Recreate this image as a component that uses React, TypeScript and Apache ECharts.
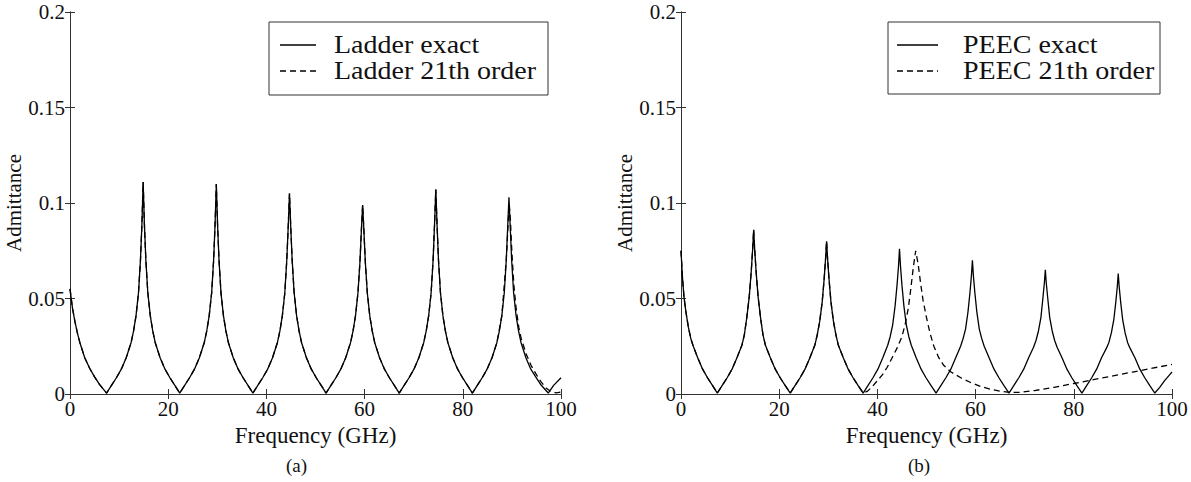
import React, { useEffect, useRef } from 'react';
import * as echarts from 'echarts';

// Frequency axis ticks (GHz) and admittance ticks
const freqTicks = [0, 20, 40, 60, 80, 100];
const admTicks = [0, 0.05, 0.1, 0.15, 0.2];

// Legend labels
const ladderNames = ['Ladder exact', 'Ladder 21th order'];
const peecNames = ['PEEC exact', 'PEEC 21th order'];

// (a) Ladder exact: [frequency GHz, admittance]
const ladderExact: [number, number][] = [
  [0, 0.055], [0.5, 0.045], [1, 0.038], [1.5, 0.032], [2, 0.027], [3, 0.019], [4, 0.0135], [5, 0.009], [6, 0.005], [7.45, 0.0005],
  [8.45, 0.0045], [9.45, 0.0085], [10.45, 0.013], [11.45, 0.019], [12.45, 0.027], [12.95, 0.033], [13.45, 0.041], [13.95, 0.053], [14.35, 0.07], [14.65, 0.089],
  [14.9, 0.111],
  [15.15, 0.089], [15.45, 0.07], [15.85, 0.053], [16.35, 0.041], [16.85, 0.033], [17.35, 0.027], [18.35, 0.019], [19.35, 0.013], [20.35, 0.0085], [21.35, 0.0045], [22.35, 0.0005],
  [23.35, 0.0045], [24.35, 0.0085], [25.35, 0.013], [26.35, 0.019], [27.35, 0.027], [27.85, 0.033], [28.35, 0.041], [28.85, 0.053], [29.25, 0.07], [29.55, 0.089],
  [29.8, 0.11],
  [30.05, 0.089], [30.35, 0.07], [30.75, 0.053], [31.25, 0.041], [31.75, 0.033], [32.25, 0.027], [33.25, 0.019], [34.25, 0.013], [35.25, 0.0085], [36.25, 0.0045], [37.25, 0.0005],
  [38.25, 0.0045], [39.25, 0.0085], [40.25, 0.013], [41.25, 0.019], [42.25, 0.027], [42.75, 0.033], [43.25, 0.041], [43.75, 0.053], [44.15, 0.07], [44.45, 0.088],
  [44.7, 0.105],
  [44.95, 0.088], [45.25, 0.07], [45.65, 0.053], [46.15, 0.041], [46.65, 0.033], [47.15, 0.027], [48.15, 0.019], [49.15, 0.013], [50.15, 0.0085], [51.15, 0.0045], [52.15, 0.0005],
  [53.15, 0.0045], [54.15, 0.0085], [55.15, 0.013], [56.15, 0.019], [57.15, 0.027], [57.65, 0.033], [58.15, 0.041], [58.65, 0.053], [59.05, 0.069], [59.35, 0.086],
  [59.6, 0.099],
  [59.85, 0.086], [60.15, 0.069], [60.55, 0.053], [61.05, 0.041], [61.55, 0.033], [62.05, 0.027], [63.05, 0.019], [64.05, 0.013], [65.05, 0.0085], [66.05, 0.0045], [67.05, 0.0005],
  [68.05, 0.0045], [69.05, 0.0085], [70.05, 0.013], [71.05, 0.019], [72.05, 0.027], [72.55, 0.033], [73.05, 0.041], [73.55, 0.053], [73.95, 0.07], [74.25, 0.089],
  [74.5, 0.107],
  [74.75, 0.089], [75.05, 0.07], [75.45, 0.053], [75.95, 0.041], [76.45, 0.033], [76.95, 0.027], [77.95, 0.019], [78.95, 0.013], [79.95, 0.0085], [80.95, 0.0045], [81.95, 0.0005],
  [82.95, 0.0045], [83.95, 0.0085], [84.95, 0.013], [85.95, 0.019], [86.95, 0.027], [87.45, 0.033], [87.95, 0.041], [88.45, 0.053], [88.85, 0.07], [89.15, 0.088],
  [89.4, 0.103],
  [89.65, 0.088], [89.95, 0.07], [90.35, 0.053], [90.85, 0.041], [91.35, 0.033], [91.85, 0.027], [92.85, 0.019], [93.85, 0.013], [94.85, 0.009], [95.85, 0.005], [97.4, 0.0005],
  [98.5, 0.0045], [100, 0.0085],
];

// (a) Ladder 21th order: where it leaves the exact curve
const ladderOrder21Tail: [number, number][] = [
  [87.95, 0.041], [88.85, 0.07], [89.45, 0.1], [89.7, 0.091], [90, 0.074], [90.4, 0.057], [90.9, 0.044], [91.4, 0.035], [91.9, 0.029],
  [92.9, 0.021], [93.9, 0.015], [94.9, 0.0105], [95.9, 0.0065], [97, 0.003], [98, 0.0012], [99, 0.0006], [100, 0.001],
];

// (b) PEEC exact
const peecExact: [number, number][] = [
  [0, 0.075], [0.3, 0.061], [0.6, 0.051], [1, 0.043], [1.5, 0.035], [2, 0.029], [2.5, 0.025], [3.4, 0.019], [4.4, 0.013], [5.4, 0.0085], [6.4, 0.0045], [7.4, 0.0005],
  [8.4, 0.0045], [9.4, 0.0085], [10.4, 0.013], [11.4, 0.019], [12.4, 0.0255], [12.9, 0.031], [13.4, 0.04], [13.9, 0.051], [14.3, 0.064], [14.6, 0.076],
  [14.8, 0.086],
  [15.0, 0.076], [15.3, 0.064], [15.7, 0.051], [16.2, 0.04], [16.7, 0.031], [17.2, 0.0255], [18.2, 0.019], [19.2, 0.013], [20.2, 0.0085], [21.2, 0.0045], [22.25, 0.0005],
  [23.25, 0.0045], [24.25, 0.0085], [25.25, 0.013], [26.25, 0.019], [27.25, 0.0255], [27.75, 0.031], [28.25, 0.038], [28.75, 0.048], [29.15, 0.06], [29.45, 0.071],
  [29.65, 0.08],
  [29.85, 0.071], [30.15, 0.06], [30.55, 0.048], [31.05, 0.038], [31.55, 0.031], [32.05, 0.0255], [33.05, 0.019], [34.05, 0.013], [35.05, 0.0085], [36.05, 0.0045], [37.1, 0.0005],
  [38.1, 0.0045], [39.1, 0.0085], [40.1, 0.013], [41.1, 0.019], [42.1, 0.0255], [42.6, 0.03], [43.1, 0.036], [43.6, 0.046], [44.0, 0.057], [44.3, 0.067],
  [44.5, 0.076],
  [44.7, 0.067], [45.0, 0.057], [45.4, 0.046], [45.9, 0.036], [46.4, 0.03], [46.9, 0.0255], [47.9, 0.019], [48.9, 0.013], [49.9, 0.0085], [50.9, 0.0045], [51.95, 0.0005],
  [52.95, 0.0045], [53.95, 0.0085], [54.95, 0.013], [55.95, 0.019], [56.95, 0.025], [57.45, 0.029], [57.95, 0.034], [58.45, 0.043], [58.85, 0.053], [59.15, 0.062],
  [59.35, 0.07],
  [59.55, 0.062], [59.85, 0.053], [60.25, 0.043], [60.75, 0.034], [61.25, 0.029], [61.75, 0.025], [62.75, 0.019], [63.75, 0.013], [64.75, 0.0085], [65.75, 0.0045], [66.8, 0.0005],
  [67.8, 0.0045], [68.8, 0.0085], [69.8, 0.013], [70.8, 0.019], [71.8, 0.0245], [72.3, 0.028], [72.8, 0.033], [73.3, 0.04], [73.7, 0.05], [74.0, 0.058],
  [74.2, 0.065],
  [74.4, 0.058], [74.7, 0.05], [75.1, 0.04], [75.6, 0.033], [76.1, 0.028], [76.6, 0.0245], [77.6, 0.019], [78.6, 0.013], [79.6, 0.0085], [80.6, 0.0045], [81.65, 0.0005],
  [82.65, 0.0045], [83.65, 0.0085], [84.65, 0.013], [85.65, 0.019], [86.65, 0.024], [87.15, 0.027], [87.65, 0.032], [88.15, 0.039], [88.55, 0.048], [88.85, 0.056],
  [89.05, 0.063],
  [89.25, 0.056], [89.55, 0.048], [89.95, 0.039], [90.45, 0.032], [90.95, 0.027], [91.45, 0.024], [92.45, 0.019], [93.45, 0.013], [94.45, 0.0085], [95.45, 0.0045], [96.5, 0.0005],
  [97.5, 0.0035], [98.5, 0.007], [99.5, 0.01], [100, 0.0115],
];

// (b) PEEC 21th order: where it leaves the exact curve
const peecOrder21Tail: [number, number][] = [
  [38, 0.0015], [39, 0.004], [40, 0.007], [41, 0.01], [42, 0.014], [43, 0.019], [44, 0.024], [45, 0.03], [45.7, 0.037], [46.3, 0.045],
  [46.8, 0.055], [47.3, 0.066], [47.8, 0.075], [48.3, 0.068], [48.8, 0.058], [49.3, 0.049], [50, 0.04], [50.7, 0.032], [51.5, 0.025],
  [52.5, 0.019], [53.5, 0.015], [55, 0.0115], [57, 0.0085], [59, 0.006], [61, 0.004], [63, 0.0025], [65, 0.0015], [67, 0.0008],
  [69, 0.0008], [72, 0.0018], [76, 0.0035], [80, 0.0055], [84, 0.0075], [88, 0.0095], [92, 0.0115], [96, 0.0135], [100, 0.0155],
];

const ladderOrder21 = ladderExact.filter((p) => p[0] <= 86.95).concat(ladderOrder21Tail);
const peecOrder21 = peecExact.filter((p) => p[0] <= 37.1).concat(peecOrder21Tail);

const FONT = 'Liberation Serif, Times New Roman, serif';
const INK = '#111';
const AXIS = '#333';
const DASH = [6, 4];

function legendBox(x: number, y: number, w: number, h: number, lineX0: number, lineX1: number, textX: number, rowY: number[], names: string[]) {
  const textStyle = (t: string) => ({ text: t, fontSize: 25, fontFamily: FONT, fill: INK, verticalAlign: 'middle' });
  return {
    type: 'group',
    children: [
      { type: 'rect', shape: { x, y, width: w, height: h }, style: { fill: '#fff', stroke: AXIS, lineWidth: 1 }, z: 10 },
      { type: 'line', shape: { x1: lineX0, y1: rowY[0], x2: lineX1, y2: rowY[0] }, style: { stroke: '#000', lineWidth: 1.3 }, z: 11 },
      { type: 'line', shape: { x1: lineX0, y1: rowY[1], x2: lineX1, y2: rowY[1] }, style: { stroke: '#000', lineWidth: 1.3, lineDash: DASH }, z: 11 },
      { type: 'text', x: textX, y: rowY[0], scaleX: 1.12, style: textStyle(names[0]), z: 11 },
      { type: 'text', x: textX, y: rowY[1], scaleX: 1.12, style: textStyle(names[1]), z: 11 },
    ],
  };
}

function buildOption() {
  const grids = [
    { left: 70, top: 12, width: 491, height: 382 },
    { left: 681, top: 12, width: 491, height: 382 },
  ];
  const xMin = freqTicks[0];
  const xMax = freqTicks[freqTicks.length - 1];
  const xInt = freqTicks[1] - freqTicks[0];
  const yMin = admTicks[0];
  const yMax = admTicks[admTicks.length - 1];
  const yInt = admTicks[1] - admTicks[0];

  const xAxis: any[] = [];
  const yAxis: any[] = [];
  grids.forEach((_, g) => {
    xAxis.push({
      type: 'value', gridIndex: g, position: 'bottom', min: xMin, max: xMax, interval: xInt,
      axisLine: { show: true, lineStyle: { color: AXIS, width: 1 } },
      axisTick: { show: true, inside: true, length: 5, lineStyle: { color: AXIS } },
      axisLabel: { show: true, margin: 4, fontSize: 21, fontFamily: FONT, color: INK },
      splitLine: { show: false },
      name: 'Frequency (GHz)', nameLocation: 'middle', nameGap: 22,
      nameTextStyle: { fontSize: 23, fontFamily: FONT, color: INK },
    });
    xAxis.push({
      type: 'value', gridIndex: g, position: 'top', min: xMin, max: xMax, interval: xInt,
      axisLine: { show: true, lineStyle: { color: AXIS, width: 1 } },
      axisTick: { show: true, inside: true, length: 5, lineStyle: { color: AXIS } },
      axisLabel: { show: false },
      splitLine: { show: false },
    });
    yAxis.push({
      type: 'value', gridIndex: g, position: 'left', min: yMin, max: yMax, interval: yInt,
      axisLine: { show: true, lineStyle: { color: AXIS, width: 1 } },
      axisTick: { show: true, inside: true, length: 5, lineStyle: { color: AXIS } },
      axisLabel: { show: true, margin: 5, fontSize: 21, fontFamily: FONT, color: INK },
      splitLine: { show: false },
      name: 'Admittance', nameLocation: 'middle', nameGap: 30,
      nameTextStyle: { fontSize: 21, fontFamily: FONT, color: INK },
    });
    yAxis.push({
      type: 'value', gridIndex: g, position: 'right', min: yMin, max: yMax, interval: yInt,
      axisLine: { show: true, lineStyle: { color: AXIS, width: 1 } },
      axisTick: { show: true, inside: true, length: 5, lineStyle: { color: AXIS } },
      axisLabel: { show: false },
      splitLine: { show: false },
    });
  });

  const solid = { color: '#000', width: 1.3, type: 'solid' as const };
  const dashed = { color: '#000', width: 1.3, type: DASH as any };

  return {
    animation: false,
    backgroundColor: '#fff',
    textStyle: { fontFamily: FONT },
    grid: grids,
    xAxis,
    yAxis,
    graphic: [
      legendBox(269, 22, 279, 73, 280, 316, 334, [45, 71], ladderNames),
      legendBox(888, 22, 272, 72, 897, 938, 963, [45, 71], peecNames),
      { type: 'text', left: 286, top: 456, style: { text: '(a)', fontSize: 19, fontFamily: FONT, fill: INK } },
      { type: 'text', left: 908, top: 456, style: { text: '(b)', fontSize: 19, fontFamily: FONT, fill: INK } },
    ],
    series: [
      { name: ladderNames[0], type: 'line', xAxisIndex: 0, yAxisIndex: 0, data: ladderExact, showSymbol: false, symbol: 'none', lineStyle: solid },
      { name: ladderNames[1], type: 'line', xAxisIndex: 0, yAxisIndex: 0, data: ladderOrder21, showSymbol: false, symbol: 'none', lineStyle: dashed },
      { name: peecNames[0], type: 'line', xAxisIndex: 2, yAxisIndex: 2, data: peecExact, showSymbol: false, symbol: 'none', lineStyle: solid },
      { name: peecNames[1], type: 'line', xAxisIndex: 2, yAxisIndex: 2, data: peecOrder21, showSymbol: false, symbol: 'none', lineStyle: dashed },
    ],
  };
}

export default function App() {
  const ref = useRef<HTMLDivElement>(null);
  useEffect(() => {
    if (!ref.current) return;
    const chart = echarts.init(ref.current, undefined, { renderer: 'svg' });
    chart.setOption(buildOption() as any);
    return () => chart.dispose();
  }, []);
  return (
    <div
      ref={ref}
      style={{ position: 'absolute', left: 0, top: 0, width: 1191, height: 482, background: '#fff' }}
    />
  );
}
